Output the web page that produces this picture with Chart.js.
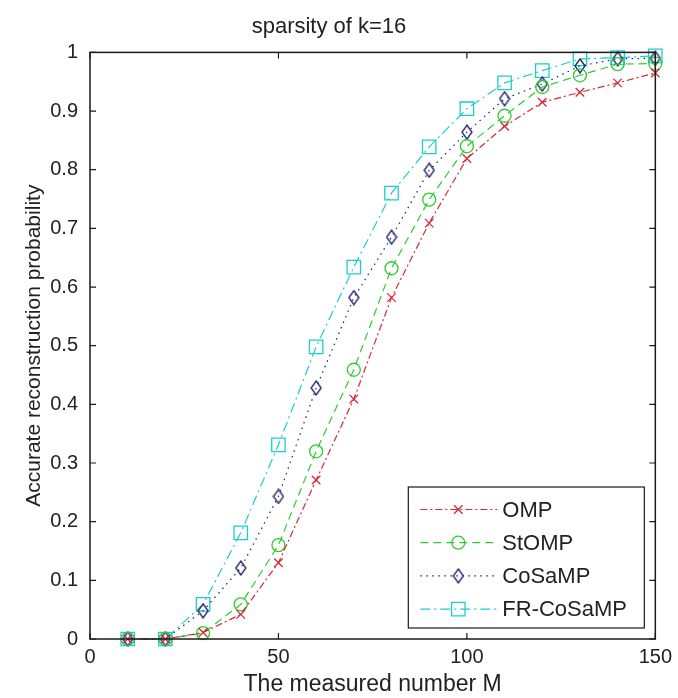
<!DOCTYPE html>
<html>
<head>
<meta charset="utf-8">
<script src="https://cdn.jsdelivr.net/npm/chart.js@4.4.1/dist/chart.umd.min.js"></script>
<style>
  html, body { margin: 0; padding: 0; background: #ffffff; }
  #wrap { width: 678px; height: 698px; position: relative; }
  canvas { display: block; }
</style>
</head>
<body>
<div id="wrap"><canvas id="c" width="678" height="698"></canvas></div>
<script>
// ---- data ----
const measuredM = [10, 20, 30, 40, 50, 60, 70, 80, 90, 100, 110, 120, 130, 140, 150];
const ompValues    = [0, 0, 0.011, 0.042, 0.130, 0.271, 0.409, 0.582, 0.709, 0.819, 0.874, 0.915, 0.932, 0.948, 0.965];
const stompValues  = [0, 0, 0.010, 0.059, 0.160, 0.320, 0.459, 0.632, 0.749, 0.840, 0.892, 0.941, 0.961, 0.980, 0.981];
const cosampValues = [0, 0, 0.048, 0.121, 0.243, 0.428, 0.582, 0.685, 0.799, 0.864, 0.921, 0.946, 0.977, 0.989, 0.990];
const frValues     = [0, 0, 0.059, 0.181, 0.331, 0.498, 0.634, 0.760, 0.839, 0.904, 0.948, 0.969, 0.989, 0.991, 0.994];
const seriesNames  = ['OMP', 'StOMP', 'CoSaMP', 'FR-CoSaMP'];
const xTickValues  = [0, 50, 100, 150];
const yTickValues  = [0, 0.1, 0.2, 0.3, 0.4, 0.5, 0.6, 0.7, 0.8, 0.9, 1];
const titleText    = 'sparsity of k=16';
const xLabel       = 'The measured number M';
const yLabel       = 'Accurate reconstruction probability';

const FONT = '"Liberation Sans", Arial, Helvetica, sans-serif';
Chart.defaults.font.family = FONT;
Chart.defaults.color = '#222';

// MATLAB-like tall diamond marker
function makeDiamond(color) {
  const w = 12, h = 16;
  const cv = document.createElement('canvas');
  cv.width = w; cv.height = h;
  const g = cv.getContext('2d');
  g.strokeStyle = color; g.lineWidth = 1.3;
  g.beginPath();
  g.moveTo(w / 2, 1); g.lineTo(w - 1, h / 2); g.lineTo(w / 2, h - 1); g.lineTo(1, h / 2); g.closePath();
  g.stroke();
  return cv;
}

const colors = { omp: '#d42a3c', stomp: '#2ecc2e', cosamp: '#1e1e6e', fr: '#1fcccc' };

function pts(vals) { return measuredM.map((m, i) => ({ x: m, y: vals[i] })); }

const datasets = [
  { label: seriesNames[0], data: pts(ompValues), borderColor: colors.omp, borderDash: [7, 3, 2, 3],
    pointStyle: 'crossRot', pointRadius: 6, pointBorderColor: colors.omp },
  { label: seriesNames[1], data: pts(stompValues), borderColor: colors.stomp, borderDash: [8, 5],
    pointStyle: 'circle', pointRadius: 6.5, pointBorderColor: colors.stomp },
  { label: seriesNames[2], data: pts(cosampValues), borderColor: colors.cosamp, borderDash: [1.5, 4.5],
    pointStyle: makeDiamond(colors.cosamp), pointRadius: 7, pointBorderColor: colors.cosamp },
  { label: seriesNames[3], data: pts(frValues), borderColor: colors.fr, borderDash: [10, 4, 2, 4],
    pointStyle: 'rect', pointRadius: 9.5, pointBorderColor: colors.fr },
].map(d => Object.assign({
  borderWidth: 1.2, pointBorderWidth: 1.3, pointBackgroundColor: 'rgba(0,0,0,0)',
  backgroundColor: 'rgba(0,0,0,0)', fill: false, tension: 0, clip: false,
  pointHoverRadius: d.pointRadius
}, d));

const boxPlugin = {
  id: 'matlabBox',
  afterDraw(chart) {
    const ctx = chart.ctx;
    const a = chart.chartArea;
    const xs = chart.scales.x, ys = chart.scales.y;
    ctx.save();
    ctx.strokeStyle = '#1a1a1a';
    ctx.lineWidth = 1.5;
    ctx.setLineDash([]);
    ctx.strokeRect(a.left, a.top, a.right - a.left, a.bottom - a.top);
    const tl = 6;
    ctx.lineWidth = 1.2;
    ctx.beginPath();
    xTickValues.forEach(v => {
      const px = xs.getPixelForValue(v);
      ctx.moveTo(px, a.bottom); ctx.lineTo(px, a.bottom - tl);
      ctx.moveTo(px, a.top); ctx.lineTo(px, a.top + tl);
    });
    yTickValues.forEach(v => {
      const py = ys.getPixelForValue(v);
      ctx.moveTo(a.left, py); ctx.lineTo(a.left + tl, py);
      ctx.moveTo(a.right, py); ctx.lineTo(a.right - tl, py);
    });
    ctx.stroke();

    // legend inside the axes, bottom-right
    const bw = 236, bh = 141;
    const bx = a.right - 11 - bw, by = a.bottom - 11 - bh;
    ctx.fillStyle = '#ffffff';
    ctx.fillRect(bx, by, bw, bh);
    ctx.lineWidth = 1.2;
    ctx.strokeStyle = '#1a1a1a';
    ctx.strokeRect(bx, by, bw, bh);
    ctx.font = '22px ' + FONT;
    ctx.textBaseline = 'middle';
    ctx.textAlign = 'left';
    chart.data.datasets.forEach((ds, i) => {
      const cy = by + 22.5 + i * 33.2;
      ctx.strokeStyle = ds.borderColor;
      ctx.lineWidth = ds.borderWidth;
      ctx.setLineDash(ds.borderDash);
      ctx.beginPath();
      ctx.moveTo(bx + 12, cy); ctx.lineTo(bx + 89, cy);
      ctx.stroke();
      ctx.setLineDash([]);
      ctx.strokeStyle = ds.pointBorderColor;
      ctx.fillStyle = 'rgba(0,0,0,0)';
      ctx.lineWidth = ds.pointBorderWidth;
      Chart.helpers.drawPoint(ctx, { pointStyle: ds.pointStyle, radius: ds.pointRadius, rotation: 0, borderWidth: ds.pointBorderWidth }, bx + 50, cy);
      ctx.fillStyle = '#222';
      ctx.fillText(ds.label, bx + 94, cy + 1);
    });
    ctx.restore();
  }
};

new Chart(document.getElementById('c'), {
  type: 'line',
  data: { datasets },
  options: {
    responsive: false,
    animation: false,
    events: [],
    layout: { padding: { left: 0, right: 20, top: 0, bottom: 0 } },
    plugins: {
      legend: { display: false },
      tooltip: { enabled: false },
      title: { display: true, text: titleText, color: '#222',
        font: { size: 22, weight: 'normal', family: FONT, lineHeight: 1.2 },
        padding: { top: 14, bottom: 12 } }
    },
    scales: {
      x: {
        type: 'linear', min: 0, max: 150,
        afterBuildTicks: s => { s.ticks = xTickValues.map(v => ({ value: v })); },
        afterFit: s => { s.height = 59; },
        grid: { display: false, drawTicks: false },
        border: { display: false },
        ticks: { font: { size: 20 }, color: '#222', padding: 6, maxRotation: 0, autoSkip: false },
        title: { display: true, text: xLabel, color: '#222', font: { size: 23 }, padding: { top: 0, bottom: 0 } }
      },
      y: {
        type: 'linear', min: 0, max: 1,
        afterBuildTicks: s => { s.ticks = yTickValues.map(v => ({ value: v })); },
        afterFit: s => { s.width = 90; },
        grid: { display: false, drawTicks: false },
        border: { display: false },
        ticks: { font: { size: 20 }, color: '#222', padding: 12, autoSkip: false,
          callback: v => String(Math.round(v * 10) / 10) },
        title: { display: true, text: yLabel, color: '#222', font: { size: 21 }, padding: { top: 22, bottom: 0 } }
      }
    }
  },
  plugins: [boxPlugin]
});
</script>
</body>
</html>
